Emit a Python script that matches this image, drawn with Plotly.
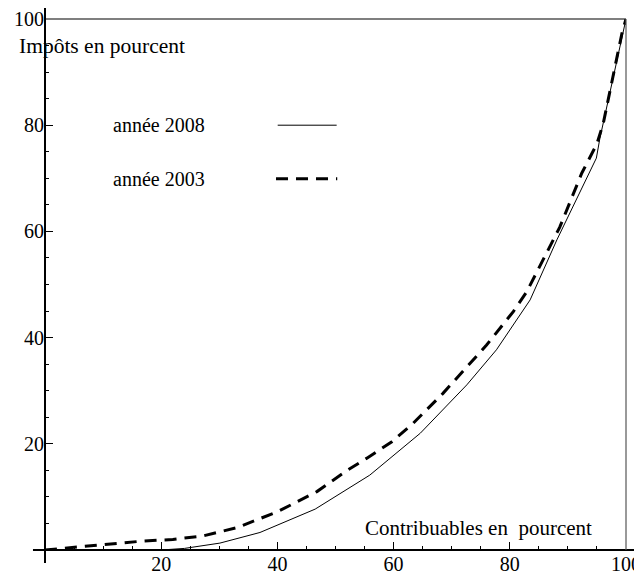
import plotly.graph_objects as go

# Data (percent of taxpayers vs percent of tax)
x2008 = [0, 20, 24, 30.1, 37, 46.5, 55.9, 64.6, 72.6, 77.7, 83.5, 88.1, 94.9, 95.5, 100]
y2008 = [0, 0, 0.3, 1.3, 3.3, 7.7, 14.1, 22.0, 31.1, 37.7, 47.1, 58.4, 73.8, 77.5, 100]

x2003 = [0, 5, 10, 16, 22, 27, 33, 40, 46.8, 52, 55.4, 59.7, 63.4, 68.5, 76, 80.6,
         82.9, 88.6, 92.4, 95, 96.1, 97.2, 99.3, 100]
y2003 = [0, 0.5, 0.9, 1.6, 2.0, 2.6, 4.2, 7.2, 11.0, 15.0, 17.3, 20.4, 23.9, 29.5, 38.6, 44.9,
         48.6, 60.8, 71.0, 76.5, 80.4, 86.0, 97.3, 100]

tick_vals = [20, 40, 60, 80, 100]
tick_text = ["20", "40", "60", "80", "100"]

series_names = ["année 2008", "année 2003"]
x_title = "Contribuables en  pourcent"
y_title = "Impôts en pourcent"

FONT = "Liberation Serif"

fig = go.Figure()
fig.add_trace(go.Scatter(x=x2008, y=y2008, mode="lines", name=series_names[0],
                         line=dict(color="black", width=1), cliponaxis=False))
fig.add_trace(go.Scatter(x=x2003, y=y2003, mode="lines", name=series_names[1],
                         line=dict(color="black", width=3, dash="12px,8px"), cliponaxis=False))

axis_common = dict(
    range=[0, 100], showgrid=False, zeroline=False, showline=False,
    automargin=False,
    tickmode="array", tickvals=tick_vals, ticktext=tick_text,
    ticks="inside", ticklen=8, tickwidth=1, tickcolor="black",
    tickfont=dict(family=FONT, size=20, color="black"),
    minor=dict(dtick=5, tick0=0, ticks="inside", ticklen=4, tickwidth=1, tickcolor="black"),
    fixedrange=True,
)

# The page body has an 8px margin, so the figure is 8px smaller than the window
fig.update_layout(
    width=634, height=566, autosize=False,
    margin=dict(l=37, r=16, t=11, b=24),
    paper_bgcolor="white", plot_bgcolor="white",
    showlegend=False,
    xaxis=axis_common,
    yaxis=axis_common,
    font=dict(family=FONT, size=20, color="black"),
)

# axes (extending past the frame) and frame lines
fig.add_shape(type="line", xref="paper", yref="paper", x0=0, x1=0, y0=-0.0245, y1=1.0207,
              line=dict(color="black", width=2))
fig.add_shape(type="line", xref="paper", yref="paper", x0=-0.0207, x1=1.024, y0=0, y1=0,
              line=dict(color="black", width=2))
fig.add_shape(type="line", xref="paper", yref="paper", x0=0, x1=1, y0=1, y1=1,
              line=dict(color="black", width=1.2))
fig.add_shape(type="line", xref="paper", yref="paper", x0=1, x1=1, y0=0, y1=1,
              line=dict(color="#555555", width=1.2))

# custom legend
fig.add_shape(type="line", xref="x", yref="y", x0=40.05, x1=50.2, y0=80.0, y1=80.0,
              line=dict(color="black", width=1))
fig.add_shape(type="line", xref="x", yref="y", x0=39.76, x1=50.3, y0=69.9, y1=69.9,
              line=dict(color="black", width=3, dash="12px,8px"))
fig.add_annotation(x=11.4, y=80.0, xref="x", yref="y", text=series_names[0],
                   showarrow=False, xanchor="left", yanchor="middle",
                   font=dict(family=FONT, size=20, color="black"))
fig.add_annotation(x=11.4, y=69.9, xref="x", yref="y", text=series_names[1],
                   showarrow=False, xanchor="left", yanchor="middle",
                   font=dict(family=FONT, size=20, color="black"))

# axis titles
fig.add_annotation(x=(17 - 45) / 581, y=(550 - 46) / 531, xref="paper", yref="paper",
                   text=y_title, showarrow=False, xanchor="left", yanchor="middle",
                   font=dict(family=FONT, size=21.5, color="black"))
fig.add_annotation(x=(594 - 45) / 581, y=(550 - 528) / 531, xref="paper", yref="paper",
                   text=x_title, showarrow=False, xanchor="right", yanchor="middle",
                   font=dict(family=FONT, size=21, color="black"))

fig.write_html("out.html")
